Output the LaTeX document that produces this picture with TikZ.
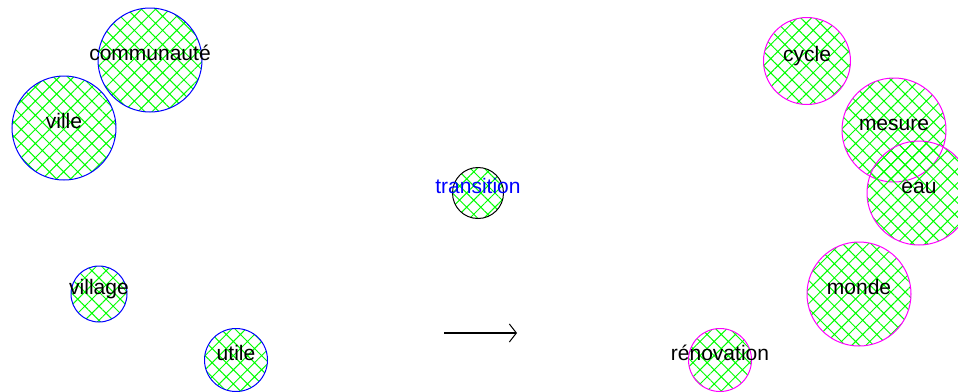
\documentclass[tikz,border=0pt]{standalone}
\usepackage{fontspec}
\setmainfont{Liberation Sans}
\usetikzlibrary{patterns.meta,arrows.meta}
\definecolor{hatchgreen}{RGB}{0,255,0}
\definecolor{ringblue}{RGB}{0,0,255}
\definecolor{ringmag}{RGB}{255,0,255}
\tikzset{
  bubble/.style={circle, inner sep=0pt, line width=1pt,
    pattern={Hatch[angle=45,distance=10pt,line width=1pt]}, pattern color=hatchgreen},
  leftb/.style={bubble, draw=ringblue},
  rightb/.style={bubble, draw=ringmag},
  midb/.style={bubble, draw=black},
  word/.style={anchor=base, font=\fontsize{21}{21}\selectfont, inner sep=0pt, text=black},
}
\begin{document}
\begin{tikzpicture}[x=1pt,y=-1pt]
\useasboundingbox (0,0) rectangle (958,391);
% circles
\node[leftb, minimum size=104pt] (communaute) at (150,60) {};
\node[leftb, minimum size=104pt] (ville) at (64,128) {};
\node[leftb, minimum size=56pt] (village) at (99,294) {};
\node[leftb, minimum size=63pt] (utile) at (236,360) {};
\node[midb, minimum size=51pt] (transition) at (478,193) {};
\node[rightb, minimum size=87pt] (cycle) at (807,61) {};
\node[rightb, minimum size=104pt] (mesure) at (894,130) {};
\node[rightb, minimum size=104pt] (eau) at (919,193) {};
\node[rightb, minimum size=104pt] (monde) at (859,294) {};
\node[rightb, minimum size=63pt] (renovation) at (720,360) {};
% labels
\node[word] (tcommunaute) at (communaute.center) {communauté};
\node[word] (tville) at (ville.center) {ville};
\node[word] (tvillage) at (village.center) {village};
\node[word] (tutile) at (utile.center) {utile};
\node[word, text=ringblue] (ttransition) at (transition.center) {transition};
\node[word] (tcycle) at (cycle.center) {cycle};
\node[word] (tmesure) at (mesure.center) {mesure};
\node[word] (teau) at (eau.center) {eau};
\node[word] (tmonde) at (monde.center) {monde};
\node[word] (trenovation) at (renovation.center) {rénovation};
% arrow
\coordinate (arrowstart) at (444,333);
\coordinate (arrowend) at (517,333);
\draw[line width=1.2pt, -{Straight Barb[length=7pt,width=18pt,line width=1pt]}] (arrowstart) -- (arrowend);
\end{tikzpicture}
\end{document}
